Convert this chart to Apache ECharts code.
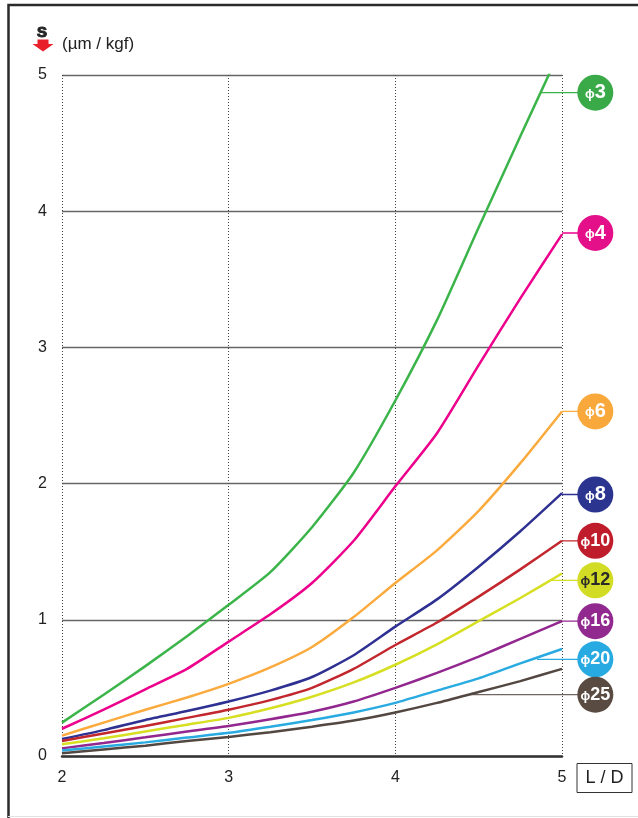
<!DOCTYPE html>
<html>
<head>
<meta charset="utf-8">
<script src="https://cdn.jsdelivr.net/npm/echarts@6/dist/echarts.min.js"></script>
<style>
html,body{margin:0;padding:0;background:#fff;}
#c{width:638px;height:818px;}
</style>
</head>
<body>
<div id="c"></div>
<script>
// ---- data ----
const LD = [2, 2.25, 2.5, 2.75, 3, 3.25, 3.5, 3.75, 4, 4.25, 4.5, 4.75, 5];
const phi3  = [0.245, 0.45, 0.66, 0.88, 1.11, 1.35, 1.68, 2.08, 2.61, 3.20, 3.88, 4.55, 5.21];
const phi4  = [0.20, 0.34, 0.49, 0.64, 0.84, 1.04, 1.27, 1.58, 1.98, 2.37, 2.87, 3.36, 3.83];
const phi6  = [0.15, 0.245, 0.34, 0.43, 0.53, 0.65, 0.80, 1.02, 1.27, 1.51, 1.80, 2.15, 2.53];
const phi8  = [0.125, 0.19, 0.265, 0.33, 0.40, 0.48, 0.58, 0.74, 0.95, 1.15, 1.39, 1.65, 1.93];
const phi10 = [0.11, 0.165, 0.22, 0.28, 0.34, 0.41, 0.50, 0.64, 0.815, 0.98, 1.17, 1.37, 1.58];
const phi12 = [0.086, 0.13, 0.18, 0.23, 0.28, 0.35, 0.435, 0.54, 0.67, 0.82, 0.99, 1.16, 1.34];
const phi16 = [0.056, 0.095, 0.137, 0.18, 0.22, 0.27, 0.325, 0.40, 0.50, 0.61, 0.73, 0.86, 0.99];
const phi20 = [0.04, 0.07, 0.10, 0.135, 0.17, 0.215, 0.264, 0.32, 0.39, 0.48, 0.57, 0.68, 0.786];
const phi25 = [0.02, 0.048, 0.076, 0.11, 0.14, 0.175, 0.215, 0.26, 0.32, 0.39, 0.47, 0.55, 0.64];

const seriesNames = ['3', '4', '6', '8', '10', '12', '16', '20', '25'];
const badgeY      = [4.87, 3.84, 2.53, 1.92, 1.58, 1.29, 0.99, 0.71, 0.45];
const connectorX  = [4.87, 5.0, 5.0, 5.0, 5.0, 4.94, 5.0, 4.85, 4.45];
const badgeX = 5.2;
const xTicks = [2, 3, 4, 5];
const yTicks = [0, 1, 2, 3, 4, 5];

// ---- styles ----
const allSeries = [phi3, phi4, phi6, phi8, phi10, phi12, phi16, phi20, phi25];
const lineColors  = ['#3bb54a', '#ec008c', '#fbaa3d', '#2e3192', '#c1272d', '#d7df23', '#92278f', '#29abe2', '#534741'];
const badgeColors = ['#3aaa48', '#e4108a', '#f9a83c', '#2b3590', '#c01d2c', '#d3dc24', '#91298f', '#27a9e1', '#594a42'];
const connColors  = ['#3bb54a', '#ec008c', '#fbaa3d', '#2e3192', '#c1272d', '#d7df23', '#92278f', '#29abe2', '#6f6662'];
const textColors  = ['#fff', '#fff', '#fff', '#fff', '#fff', '#2a2a2a', '#fff', '#fff', '#fff'];

const FONT = '"Liberation Sans", Arial, sans-serif';
const chart = echarts.init(document.getElementById('c'), null, {renderer: 'canvas'});

const series = [];
allSeries.forEach((vals, i) => {
  series.push({
    name: 'phi' + seriesNames[i],
    type: 'line',
    xAxisIndex: 0, yAxisIndex: 0,
    data: LD.map((x, j) => [x, vals[j]]),
    symbol: 'none',
    smooth: 0.2,
    clip: true,
    lineStyle: {color: lineColors[i], width: 2.5},
    z: 3,
    silent: true
  });
  series.push({
    type: 'line',
    xAxisIndex: 1, yAxisIndex: 1,
    data: [[connectorX[i], badgeY[i]], [badgeX, badgeY[i]]],
    symbol: 'none',
    lineStyle: {color: connColors[i], width: 1.3},
    z: 2,
    silent: true
  });
});
series.push({
  type: 'scatter',
  xAxisIndex: 1, yAxisIndex: 1,
  symbol: 'circle',
  symbolSize: 36,
  z: 6,
  silent: true,
  data: badgeY.map((y, i) => ({
    value: [badgeX, y],
    itemStyle: {color: badgeColors[i], opacity: 1},
    label: {
      show: true,
      position: 'inside',
      formatter: '{p|ϕ}{n|' + seriesNames[i] + '}',
      rich: {
        p: {fontSize: 13, fontWeight: 'bold', color: textColors[i], fontFamily: FONT, padding: [3, 0, 0, 0]},
        n: {fontSize: seriesNames[i].length > 1 ? 18 : 20, fontWeight: 'bold', color: textColors[i], fontFamily: FONT}
      }
    }
  }))
});

const option = {
  animation: false,
  backgroundColor: '#fff',
  textStyle: {fontFamily: FONT},
  grid: [
    {left: 62, top: 75, width: 500, bottom: 62, containLabel: false},
    {left: 62, top: 75, width: 500 * 3.4 / 3, bottom: 62, containLabel: false}
  ],
  xAxis: [
    {
      type: 'value', gridIndex: 0, min: xTicks[0], max: xTicks[xTicks.length - 1], interval: 1,
      axisLine: {show: true, onZero: false, lineStyle: {color: '#333', width: 2.5}},
      axisTick: {show: false},
      axisLabel: {fontSize: 16, color: '#222', margin: 14, fontFamily: FONT},
      splitLine: {show: true, lineStyle: {color: '#444', type: [1, 2], width: 1}}
    },
    {type: 'value', gridIndex: 1, min: 2, max: 5.4, show: false, splitLine: {show: false}}
  ],
  yAxis: [
    {
      type: 'value', gridIndex: 0, min: yTicks[0], max: yTicks[yTicks.length - 1], interval: 1,
      axisLine: {show: false},
      axisTick: {show: false},
      axisLabel: {fontSize: 16, color: '#222', margin: 15, fontFamily: FONT},
      splitLine: {show: true, lineStyle: {color: '#666', width: 1.3}}
    },
    {type: 'value', gridIndex: 1, min: 0, max: 5, show: false, splitLine: {show: false}}
  ],
  graphic: [
    // frame
    {type: 'polyline', shape: {points: [[8.5, 818], [8.5, 5], [638, 5]]}, style: {stroke: '#2b2b2b', lineWidth: 2.5, fill: null}, z: 10},
    {type: 'line', shape: {x1: 8, y1: 816.5, x2: 638, y2: 816.5}, style: {stroke: '#e2e2e2', lineWidth: 1}, z: 10},
    // unit icon: S with red arrow
    {type: 'text', x: 42, y: 33, style: {text: 'S', font: 'bold 15px ' + FONT, fill: '#222', stroke: '#222', lineWidth: 1, align: 'center', verticalAlign: 'middle'}, z: 10},
    {type: 'polygon', shape: {points: [[37.5, 39.5], [48.5, 39.5], [48.5, 44], [53.5, 44], [43, 51.5], [32.5, 44], [37.5, 44]]}, style: {fill: '#e8202a'}, z: 10},
    {type: 'text', left: 62, top: 36, style: {text: '(µm / kgf)', font: '17px ' + FONT, fill: '#222'}, z: 10},
    // L/D box
    {type: 'rect', shape: {x: 577, y: 763.5, width: 55, height: 29}, style: {stroke: '#333', lineWidth: 1, fill: '#fff'}, z: 10},
    {type: 'text', x: 604.5, y: 778.5, style: {text: 'L / D', font: '18px ' + FONT, fill: '#222', align: 'center', verticalAlign: 'middle'}, z: 11}
  ],
  series: series
};
chart.setOption(option);
</script>
</body>
</html>
